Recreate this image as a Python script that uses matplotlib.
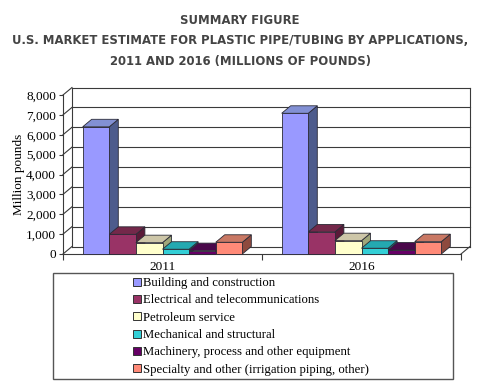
import matplotlib

matplotlib.use("Agg")
import matplotlib.pyplot as plt
from matplotlib.lines import Line2D
from matplotlib.patches import Polygon, Rectangle

years = ["2011", "2016"]
segments = [
    "Building and construction",
    "Electrical and telecommunications",
    "Petroleum service",
    "Mechanical and structural",
    "Machinery, process and other equipment",
    "Specialty and other (irrigation piping, other)",
]
values_2011 = [6400, 990, 570, 240, 170, 590]
values_2016 = [7080, 1110, 670, 290, 200, 620]
y_ticks = [0, 1000, 2000, 3000, 4000, 5000, 6000, 7000, 8000]

# front / top / side shades for the fake 3D columns
front_colors = ["#9999ff", "#993366", "#ffffcc", "#33cfd6", "#660066", "#ff8a78"]
top_colors = ["#8290d4", "#74284a", "#cdc6a8", "#24a9b1", "#4a084a", "#c97864"]
side_colors = ["#4d5b8c", "#5a1a38", "#a0a67a", "#1b8a92", "#380038", "#8e4a3e"]

SERIF = "Liberation Serif"
EDGE = "#2a2a35"
GRID = "#3a3a3a"

fig = plt.figure(figsize=(4.8, 3.92), dpi=100)
fig.patch.set_facecolor("white")

title_kw = dict(ha="center", va="center", family="DejaVu Sans", weight="bold",
                color="#444444", fontsize=8.4)
fig.text(0.5, 1 - 20 / 392, "SUMMARY FIGURE", **title_kw)
fig.text(0.5, 1 - 41 / 392, "U.S. MARKET ESTIMATE FOR PLASTIC PIPE/TUBING BY APPLICATIONS,", **title_kw)
fig.text(0.5, 1 - 61 / 392, "2011 AND 2016 (MILLIONS OF POUNDS)", **title_kw)

ax = fig.add_axes([63 / 480, 1 - 254 / 392, 398 / 480, 159 / 392])
ymax = y_ticks[-1]
ax.set_xlim(0, len(years))
ax.set_ylim(0, ymax)
ax.patch.set_visible(False)

# depth offset of the 3D box, in data units
DX = 9 / 199
DY = 7.5 * ymax / 159

line_kw = dict(color=GRID, lw=0.8, clip_on=False, zorder=1)
for t in y_ticks:
    ax.plot([DX, len(years) + DX], [t + DY, t + DY], **line_kw)
    ax.plot([0, DX], [t, t + DY], **line_kw)
ax.plot([DX, DX], [DY, ymax + DY], **line_kw)
ax.plot([len(years) + DX] * 2, [DY, ymax + DY], **line_kw)
ax.plot([len(years), len(years) + DX], [0, DY], **line_kw)

bar_w = 0.1337
gap = (1 - bar_w * len(segments)) / 2
for i, vals in enumerate([values_2011, values_2016]):
    for j, v in enumerate(vals):
        x0 = i + gap + j * bar_w
        x1 = x0 + bar_w
        side = Polygon([(x1, 0), (x1 + DX, DY), (x1 + DX, v + DY), (x1, v)],
                       fc=side_colors[j], ec=EDGE, lw=0.6, clip_on=False, zorder=3)
        top = Polygon([(x0, v), (x0 + DX, v + DY), (x1 + DX, v + DY), (x1, v)],
                      fc=top_colors[j], ec=EDGE, lw=0.6, clip_on=False, zorder=3)
        front = Rectangle((x0, 0), bar_w, v, fc=front_colors[j], ec=EDGE, lw=0.6,
                          clip_on=False, zorder=3)
        ax.add_patch(side)
        ax.add_patch(top)
        ax.add_patch(front)

for s in ["top", "right"]:
    ax.spines[s].set_visible(False)
for s in ["left", "bottom"]:
    ax.spines[s].set_color(GRID)
    ax.spines[s].set_linewidth(0.8)
    ax.spines[s].set_zorder(2)

ax.set_yticks(y_ticks)
ax.set_yticklabels([f"{t:,}" for t in y_ticks], family=SERIF, fontsize=9.5)
ax.tick_params(axis="y", length=3, width=0.8, color=GRID, pad=2)
ax.set_xticks([i + 0.5 for i in range(len(years))])
ax.set_xticklabels(years, family=SERIF, fontsize=9.5)
ax.set_xticks(range(len(years) + 1), minor=True)
ax.tick_params(axis="x", which="major", length=0, pad=5)
ax.tick_params(axis="x", which="minor", length=4, width=0.8, color=GRID)
ax.set_ylabel("Million pounds", family=SERIF, fontsize=9.5, labelpad=1)

# legend box
fig.add_artist(Rectangle((52.7 / 480, 1 - 379.3 / 392), 400 / 480, 106 / 392,
                         transform=fig.transFigure, fill=False, ec="#555555", lw=1.0))
handles = [Line2D([], [], ls="none", marker="s", markersize=6, markerfacecolor=c,
                  markeredgecolor="#333333", markeredgewidth=0.7) for c in front_colors]
fig.legend(handles, segments, loc="upper left", bbox_to_anchor=(133 / 480, 1 - 277 / 392),
           frameon=False, prop={"family": SERIF, "size": 9.2}, handlelength=0.6,
           handletextpad=0.2, labelspacing=0.42, borderpad=0, borderaxespad=0)

fig.savefig("out.png", dpi=100)
